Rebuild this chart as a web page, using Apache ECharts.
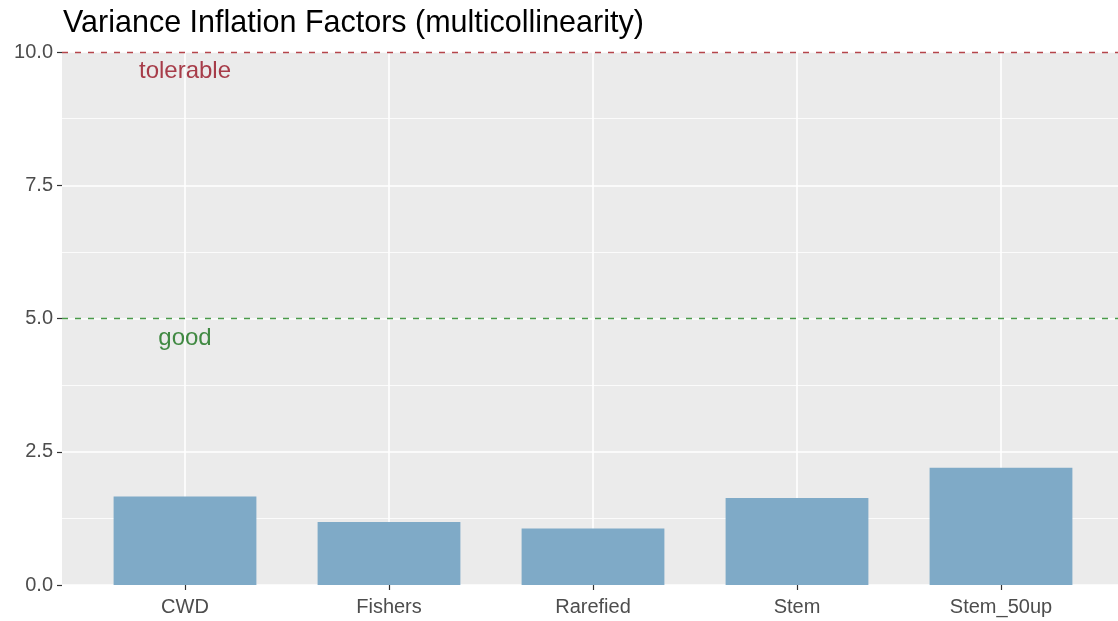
<!DOCTYPE html>
<html>
<head>
<meta charset="utf-8">
<script src="https://cdn.jsdelivr.net/npm/echarts@6/dist/echarts.min.js"></script>
<style>
html,body{margin:0;padding:0;background:#fff;}
#chart{width:1118px;height:621px;}
</style>
</head>
<body>
<div id="chart"></div>
<script>
const categories = ['CWD', 'Fishers', 'Rarefied', 'Stem', 'Stem_50up'];
const vifValues = [1.66, 1.18, 1.06, 1.63, 2.20];
const yTicks = [0, 2.5, 5, 7.5, 10];
const thresholds = [
  { name: 'tolerable', value: 10, labelY: 9.64 },
  { name: 'good', value: 5, labelY: 4.63 }
];
const titleText = 'Variance Inflation Factors (multicollinearity)';

const FONT = '"Liberation Sans", Arial, sans-serif';
const redLine = '#b5454b', greenLine = '#4a9a4a';
const redText = '#961020', greenText = '#157018';

const chart = echarts.init(document.getElementById('chart'), null, { renderer: 'canvas' });

const option = {
  animation: false,
  backgroundColor: '#ffffff',
  title: {
    text: titleText,
    left: 58, top: 3,
    textStyle: { fontFamily: FONT, fontSize: 30.5, fontWeight: 'normal', color: '#000' }
  },
  grid: [
    { left: 62, right: 0, top: 52, bottom: 36, show: true, backgroundColor: '#ebebeb', borderWidth: 0 },
    { left: 83, right: 15, top: 52, bottom: 36 }
  ],
  xAxis: [
    { gridIndex: 0, type: 'value', min: 0, max: 1, show: false },
    {
      gridIndex: 1, type: 'category', data: categories,
      axisLine: { show: false },
      axisTick: { show: true, alignWithLabel: true, length: 5, lineStyle: { color: '#333', width: 1.2 } },
      axisLabel: { margin: 12, fontFamily: FONT, fontSize: 20, color: '#4d4d4d' },
      splitLine: { show: false }
    }
  ],
  yAxis: [
    {
      gridIndex: 0, type: 'value', min: yTicks[0], max: yTicks[yTicks.length - 1],
      interval: yTicks[1] - yTicks[0],
      axisLine: { show: false },
      axisTick: { show: true, length: 5, lineStyle: { color: '#333', width: 1.2 } },
      axisLabel: { margin: 9, fontFamily: FONT, fontSize: 20, color: '#4d4d4d', formatter: v => v.toFixed(1) },
      splitLine: { show: true, lineStyle: { color: '#ffffff', width: 1.6 } },
      minorTick: { show: false, splitNumber: 2 },
      minorSplitLine: { show: true, lineStyle: { color: '#ffffff', width: 0.8 } }
    },
    { gridIndex: 1, type: 'value', min: 0, max: 10, show: false }
  ],
  series: [
    {
      // vertical major grid lines at category centres
      type: 'line', xAxisIndex: 1, yAxisIndex: 1, data: [], z: 1, silent: true,
      markLine: {
        z: 1, silent: true, symbol: ['none', 'none'], label: { show: false },
        lineStyle: { color: '#ffffff', width: 1.6, type: 'solid' },
        data: categories.map(c => ({ xAxis: c }))
      }
    },
    {
      type: 'bar', xAxisIndex: 1, yAxisIndex: 1, data: vifValues, barWidth: '70%', z: 3,
      itemStyle: { color: '#7faac7' }
    },
    {
      // threshold lines across the whole panel
      type: 'line', xAxisIndex: 0, yAxisIndex: 0, data: [], z: 4, silent: true,
      markLine: {
        z: 6, silent: true, symbol: ['none', 'none'], label: { show: false },
        data: thresholds.map((t, i) => ({
          yAxis: t.value,
          lineStyle: { color: i === 0 ? redLine : greenLine, width: 1.3, type: [6, 7] }
        }))
      }
    },
    {
      type: 'scatter', xAxisIndex: 1, yAxisIndex: 1, z: 7, silent: true, symbolSize: 0,
      data: thresholds.map((t, i) => ({
        value: [categories[0], t.labelY],
        label: {
          show: true, position: 'inside', formatter: t.name,
          fontFamily: FONT, fontSize: 24, color: i === 0 ? redText : greenText
        }
      }))
    }
  ]
};
chart.setOption(option);
</script>
</body>
</html>
